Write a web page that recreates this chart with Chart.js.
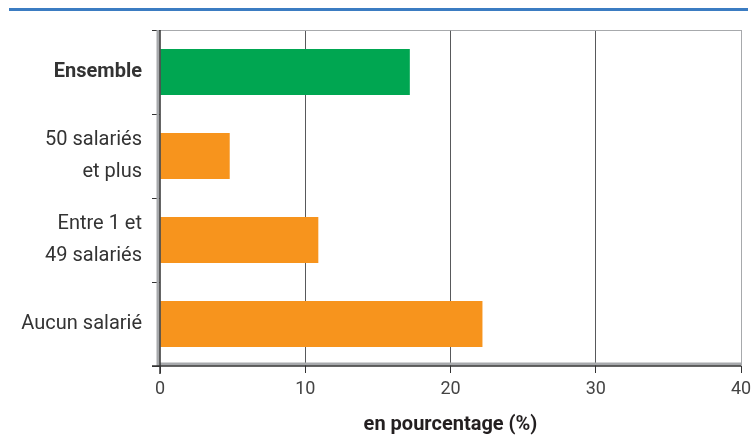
<!DOCTYPE html>
<html>
<head>
<meta charset="utf-8">
<script src="https://cdn.jsdelivr.net/npm/chart.js@4"></script>
<style>
  body { margin: 0; background: #fff; }
  #wrap { width: 752px; height: 446px; }
</style>
</head>
<body>
<div id="wrap"><canvas id="chart" width="752" height="446"></canvas></div>
<script>
const categories = ['Ensemble', ['50 salariés', 'et plus'], ['Entre 1 et', '49 salariés'], 'Aucun salarié'];
const values = [17.2, 4.8, 10.9, 22.2];
const barColors = ['#00a651', '#f7941d', '#f7941d', '#f7941d'];
const xTicks = [0, 10, 20, 30, 40];

// top blue rule + grey shadow lines along the axes
const decorations = {
    id: 'decorations',
    beforeDraw(chart) {
        const ctx = chart.ctx;
        ctx.save();
        ctx.strokeStyle = '#3b7cc2';
        ctx.lineWidth = 3;
        ctx.beginPath();
        ctx.moveTo(9, 9.5);
        ctx.lineTo(748, 9.5);
        ctx.stroke();
        ctx.restore();
    },
    afterDraw(chart) {
        const a = chart.chartArea;
        const ctx = chart.ctx;
        ctx.save();
        ctx.strokeStyle = '#a7a9ac';
        ctx.lineWidth = 1;
        ctx.beginPath();
        ctx.moveTo(a.left, a.top + 0.5);
        ctx.lineTo(a.right, a.top + 0.5);
        ctx.stroke();
        ctx.lineWidth = 3;
        ctx.beginPath();
        ctx.moveTo(a.left, a.bottom - 2);
        ctx.lineTo(a.right, a.bottom - 2);
        ctx.moveTo(a.left - 2, a.top);
        ctx.lineTo(a.left - 2, a.bottom);
        ctx.stroke();
        ctx.strokeStyle = '#333';
        ctx.lineWidth = 1.5;
        ctx.beginPath();
        ctx.moveTo(a.left, a.top);
        ctx.lineTo(a.left, a.bottom + 8);
        ctx.moveTo(a.left - 8, a.bottom);
        ctx.lineTo(a.right, a.bottom);
        ctx.stroke();
        ctx.restore();
    }
};

new Chart(document.getElementById('chart'), {
    type: 'bar',
    data: {
        labels: categories,
        datasets: [{
            data: values,
            backgroundColor: barColors,
            borderWidth: 0,
            barPercentage: 0.55,
            categoryPercentage: 1
        }]
    },
    options: {
        indexAxis: 'y',
        responsive: false,
        animation: false,
        layout: { padding: { top: 30, right: 11, left: 0, bottom: 0 } },
        plugins: {
            legend: { display: false },
            tooltip: { enabled: false }
        },
        scales: {
            x: {
                min: 0,
                max: 40,
                afterBuildTicks: (axis) => { axis.ticks = xTicks.map(v => ({ value: v })); },
                afterFit: (axis) => {
                    axis.height = 80;
                    axis.paddingRight = 0;
                    axis.paddingLeft = 0;
                },
                grid: {
                    color: (c) => c.tick && c.tick.value === 40 ? '#a7a9ac' : (c.tick && c.tick.value === 0 ? 'rgba(0,0,0,0)' : '#58595b'),
                    tickColor: '#333',
                    tickLength: 7,
                    lineWidth: 1
                },
                border: { display: false },
                ticks: {
                    color: '#444',
                    padding: 6,
                    font: { family: 'Roboto', size: 18 }
                },
                title: {
                    display: true,
                    text: 'en pourcentage (%)',
                    color: '#231f20',
                    padding: { top: 4, bottom: 9 },
                    font: { family: 'Roboto', size: 20, weight: 'bold' }
                }
            },
            y: {
                afterFit: (axis) => { axis.width = 160; },
                grid: {
                    offset: true,
                    drawOnChartArea: false,
                    tickLength: 8,
                    tickColor: '#333'
                },
                border: { display: false },
                ticks: {
                    color: '#333',
                    padding: 10,
                    font: (c) => ({ family: 'Roboto', size: 20, lineHeight: 1.6, weight: c.index === 0 ? 'bold' : 'normal' })
                }
            }
        }
    },
    plugins: [decorations]
});
</script>
</body>
</html>
